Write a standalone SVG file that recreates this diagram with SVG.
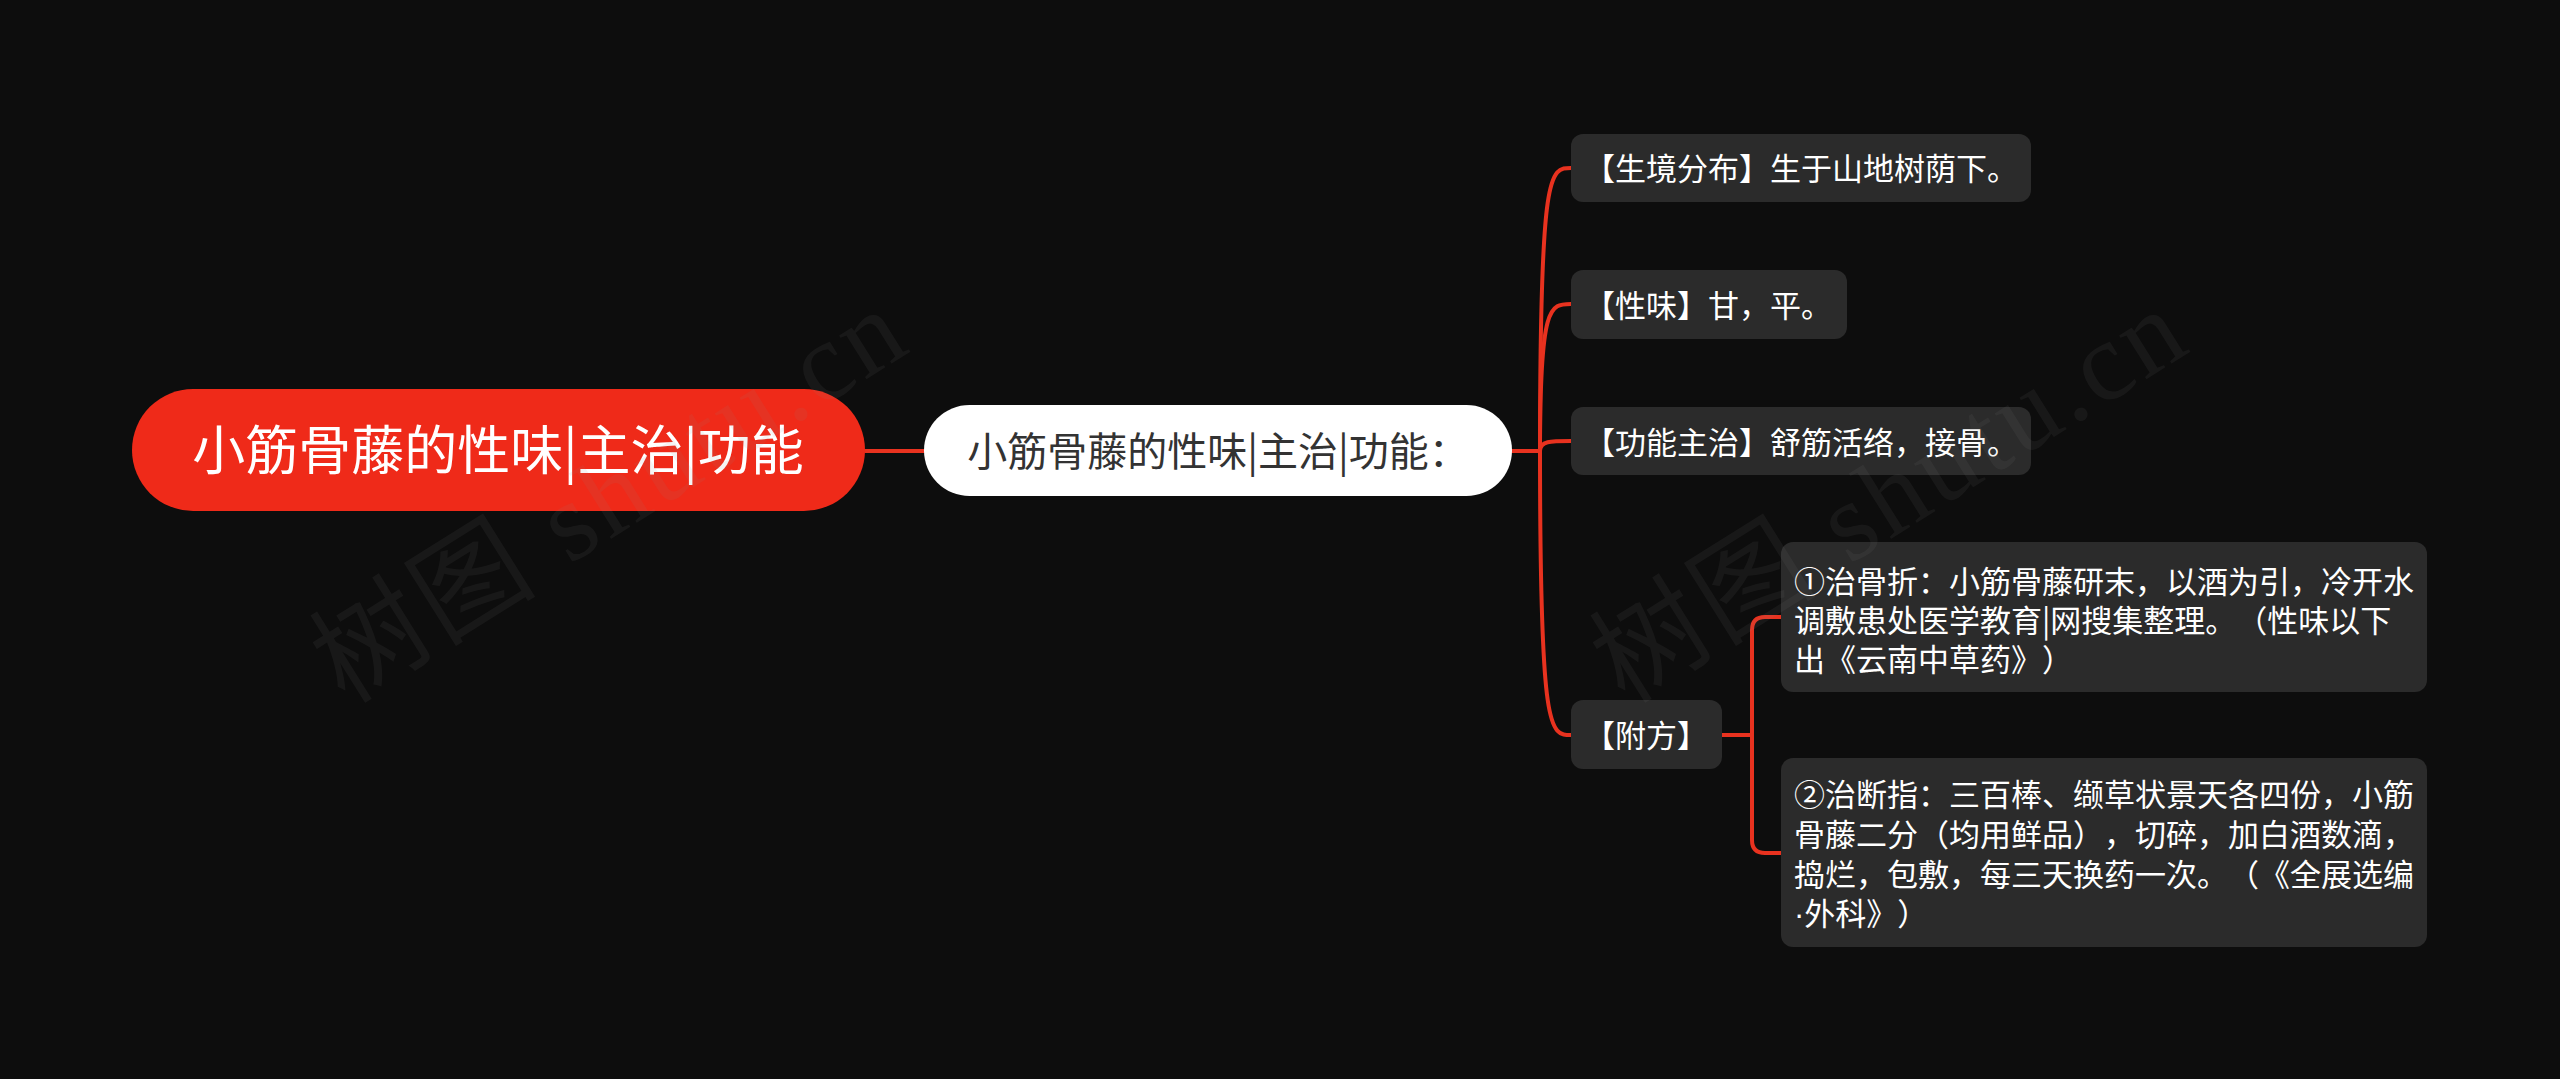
<svg xmlns="http://www.w3.org/2000/svg" width="2560" height="1079" viewBox="0 0 2560 1079">
<style>
  .bg { fill: #0d0d0d; }
  .root-box { fill: #ef2a19; }
  .main-box { fill: #ffffff; }
  .leaf-box { fill: #2b2b2b; }
  text { text-spacing-trim: space-all; font-feature-settings: "chws" 0, "halt" 0, "palt" 0; }
  .root-txt { font-family: "Noto Sans CJK SC", "Noto Sans", sans-serif; font-size: 53px; fill: #ffffff; text-anchor: middle; }
  .main-txt { font-family: "Noto Sans CJK SC", "Noto Sans", sans-serif; font-size: 40px; fill: #333333; text-anchor: middle; }
  .leaf-txt { font-family: "Noto Sans CJK SC", "Noto Sans", sans-serif; font-size: 31px; fill: #ffffff; }
  .dot { font-family: "Liberation Sans", sans-serif; }
  .conn { fill: none; stroke: #e8321f; stroke-width: 4; stroke-linecap: round; }
  .wm { font-family: "Liberation Serif", "Noto Sans CJK SC", serif; font-size: 112px; fill: #8a8a8a; opacity: 0.09; letter-spacing: 4px; }
</style>
<rect class="bg" x="0" y="0" width="2560" height="1079"/>

<g id="connectors">
  <path class="conn" d="M865 451 L924 451"/>
  <path class="conn" d="M1512 451 L1540 451"/>
  <path class="conn" d="M1540 451 C1540 168 1550 168 1571 168"/>
  <path class="conn" d="M1540 451 C1540 304 1550 304 1571 304"/>
  <path class="conn" d="M1540 451 C1540 441 1550 441 1571 441"/>
  <path class="conn" d="M1540 451 C1540 735 1550 735 1571 735"/>
  <path class="conn" d="M1722 735 L1752 735"/>
  <path class="conn" d="M1752 735 L1752 630 Q1752 617 1765 617 L1781 617"/>
  <path class="conn" d="M1752 735 L1752 840 Q1752 853 1765 853 L1781 853"/>
</g>

<g id="node-root">
  <rect class="root-box" x="132" y="389" width="733" height="122" rx="61"/>
  <text class="root-txt" x="498" y="470">小筋骨藤的性味|主治|功能</text>
</g>

<g id="node-main">
  <rect class="main-box" x="924" y="405" width="588" height="91" rx="45.5"/>
  <text class="main-txt" x="1218" y="466">小筋骨藤的性味|主治|功能：</text>
</g>

<g id="node-habitat">
  <rect class="leaf-box" x="1571" y="134" width="460" height="68" rx="12"/>
  <text class="leaf-txt" x="1584" y="180">【生境分布】生于山地树荫下。</text>
</g>

<g id="node-taste">
  <rect class="leaf-box" x="1571" y="270" width="276" height="69" rx="12"/>
  <text class="leaf-txt" x="1584" y="317">【性味】甘，平。</text>
</g>

<g id="node-function">
  <rect class="leaf-box" x="1571" y="407" width="460" height="68" rx="12"/>
  <text class="leaf-txt" x="1584" y="454">【功能主治】舒筋活络，接骨。</text>
</g>

<g id="node-recipe">
  <rect class="leaf-box" x="1571" y="700" width="151" height="69" rx="12"/>
  <text class="leaf-txt" x="1584" y="747">【附方】</text>
</g>

<g id="node-recipe-1">
  <rect class="leaf-box" x="1781" y="542" width="646" height="150" rx="12"/>
  <text class="leaf-txt" x="1794" y="593">①治骨折：小筋骨藤研末，以酒为引，冷开水</text>
  <text class="leaf-txt" x="1794" y="632">调敷患处医学教育|网搜集整理。（性味以下</text>
  <text class="leaf-txt" x="1794" y="671">出《云南中草药》）</text>
</g>

<g id="node-recipe-2">
  <rect class="leaf-box" x="1781" y="758" width="646" height="189" rx="12"/>
  <text class="leaf-txt" x="1794" y="806">②治断指：三百棒、缬草状景天各四份，小筋</text>
  <text class="leaf-txt" x="1794" y="846">骨藤二分（均用鲜品），切碎，加白酒数滴，</text>
  <text class="leaf-txt" x="1794" y="886">捣烂，包敷，每三天换药一次。（《全展选编</text>
  <text class="leaf-txt" x="1794" y="925"><tspan class="dot">·</tspan>外科》）</text>
</g>

<g id="watermarks">
  <text class="wm" transform="translate(345 705) rotate(-32)">树图 shutu.cn</text>
  <text class="wm" transform="translate(1625 705) rotate(-32)">树图 shutu.cn</text>
</g>
</svg>
